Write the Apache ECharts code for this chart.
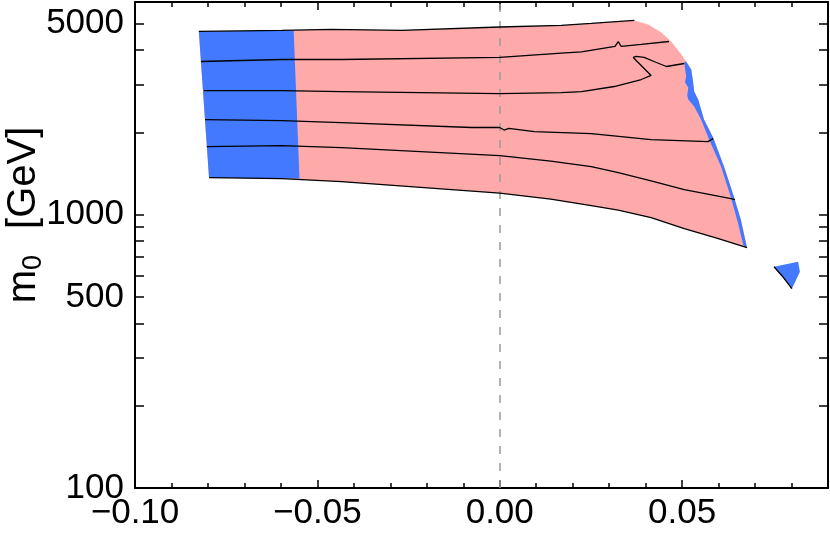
<!DOCTYPE html>
<html><head><meta charset="utf-8">
<script src="https://cdn.jsdelivr.net/npm/echarts@6/dist/echarts.min.js"></script>
<style>html,body{margin:0;padding:0;background:#fff}#c{width:830px;height:535px}</style>
</head><body><div id="c"></div>
<script>
// ---- tick values / labels ----
const xTickValues = [-0.10, -0.05, 0.00, 0.05];
const xTickLabels = ['\u22120.10', '\u22120.05', '0.00', '0.05'];
const xMinorTicks = [-0.09, -0.08, -0.07, -0.06, -0.04, -0.03, -0.02, -0.01, 0.01, 0.02, 0.03, 0.04, 0.06, 0.07, 0.08];
const yLabelValues = [100, 500, 1000, 5000];
const yTickValues = [100, 200, 300, 400, 500, 600, 700, 800, 900, 1000, 2000, 3000, 4000, 5000];
const xRange = [-0.10, 0.09];
const yRange = [100, 6000];

// ---- contour lines  [x, m0 (GeV)] ----
const line1 = [[-0.0825,4681],[-0.0598,4721],[-0.0462,4761],[-0.0269,4721],[0.0,4860],[0.0169,4925],[0.0251,5007],[0.0369,5136]];
const line2 = [[-0.0819,3635],[-0.0598,3697],[-0.0434,3697],[0.0,3760],[0.0169,3900],[0.0224,3940],[0.0316,4125],[0.0325,4300],[0.0333,4125],[0.0388,4196],[0.0464,4302]];
const line3 = [[-0.0811,2846],[-0.0598,2846],[-0.0434,2822],[0.0,2775],[0.0169,2798],[0.0224,2822],[0.0314,2944],[0.0388,3123],[0.0415,3231],[0.0366,3760],[0.0374,3792],[0.0396,3760],[0.0423,3635],[0.0457,3485],[0.0506,3574]];
const line4 = [[-0.0808,2228],[-0.0598,2209],[-0.0434,2173],[-0.0077,2084],[0.0,2084],[0.0012,2040],[0.0025,2070],[0.0095,2014],[0.0251,1980],[0.0415,1882],[0.0571,1851],[0.0585,1898]];
const line5 = [[-0.0803,1774],[-0.0598,1789],[-0.0434,1759],[0.0,1645],[0.0140,1570],[0.0251,1499],[0.0325,1425],[0.0415,1330],[0.0506,1235],[0.0634,1145],[0.0645,1135]];
const line6 = [[-0.0797,1366],[-0.0598,1355],[-0.0434,1321],[0.0,1200],[0.0140,1140],[0.0251,1079],[0.0325,1040],[0.0415,975],[0.0506,890],[0.0595,820],[0.0678,757]];

// ---- region boundaries ----
const pinkRightEdge = [[0.0369,5136],[0.0407,4966],[0.0443,4642],[0.0470,4302],[0.0498,3856],[0.0511,3635]];
const blueOuterEdge = [[0.0511,3635],[0.0525,3396],[0.0530,3071],[0.0533,2822],[0.0544,2638],[0.0560,2228],[0.0585,1915],[0.0615,1499],[0.0642,1164],[0.0661,959],[0.0678,757]];
const blueInnerEdge = [[0.0669,764],[0.0653,935],[0.0634,1154],[0.0607,1499],[0.0574,1882],[0.0552,2228],[0.0533,2487],[0.0517,2638],[0.0514,2728],[0.0517,2919],[0.0508,3044],[0.0511,3203],[0.0506,3604]];
const blueLeft = [[-0.0825,4681],[-0.0565,4721],[-0.0549,1355],[-0.0797,1366]];
const islandBlue = [[0.0752,645],[0.0818,673],[0.0823,618],[0.0801,536]];
const islandEdge = [[0.0752,645],[0.0776,593],[0.0801,536]];
const zeroLineX = 0;

const PINK = '#ffaaaa';
const BLUE = '#4279ff';

const L = Math.log10;
const toLog = pts => pts.map(p => [p[0], L(p[1])]);

function polySeries(pts, color, z) {
  const d = toLog(pts);
  return {
    type: 'custom', coordinateSystem: 'cartesian2d', data: d, silent: true, animation: false, z: z,
    renderItem: (params, api) => params.dataIndex === 0 ? {
      type: 'polygon', shape: { points: d.map(p => api.coord(p)) }, style: { fill: color, stroke: null }
    } : null
  };
}
function lineSeries(pts, extra) {
  return Object.assign({
    type: 'line', data: toLog(pts), symbol: 'none', showSymbol: false, silent: true, animation: false, z: 5,
    lineStyle: { color: '#000', width: 1.3 }
  }, extra || {});
}

const FONT = 'Liberation Sans, Arial, Helvetica, sans-serif';
const xBase = { type: 'value', min: xRange[0], max: xRange[1], splitLine: { show: false }, gridIndex: 0 };
const yBase = { type: 'value', min: L(yRange[0]), max: L(yRange[1]), splitLine: { show: false }, gridIndex: 0 };
const axisLineStyle = { show: true, onZero: false, lineStyle: { color: '#000', width: 2 } };

const option = {
  animation: false,
  backgroundColor: '#fff',
  grid: { left: 135, right: 2, top: 2, bottom: 47, containLabel: false },
  xAxis: [
    Object.assign({}, xBase, {
      position: 'bottom', axisLine: axisLineStyle,
      axisTick: { show: true, inside: true, length: 8, customValues: xTickValues, lineStyle: { color: '#000', width: 1.5 } },
      axisLabel: { show: true, customValues: xTickValues, margin: 8, fontSize: 35, color: '#000', fontFamily: FONT,
        formatter: v => { const i = xTickValues.findIndex(t => Math.abs(t - v) < 1e-9); return i >= 0 ? xTickLabels[i] : ''; } }
    }),
    Object.assign({}, xBase, {
      position: 'bottom', axisLine: { show: false },
      axisTick: { show: true, inside: true, length: 5, customValues: xMinorTicks, lineStyle: { color: '#000', width: 1.5 } },
      axisLabel: { show: false }
    }),
    Object.assign({}, xBase, {
      position: 'top', axisLine: axisLineStyle,
      axisTick: { show: true, inside: true, length: 8, customValues: xTickValues, lineStyle: { color: '#000', width: 1.5 } },
      axisLabel: { show: false }
    }),
    Object.assign({}, xBase, {
      position: 'top', axisLine: { show: false },
      axisTick: { show: true, inside: true, length: 5, customValues: xMinorTicks, lineStyle: { color: '#000', width: 1.5 } },
      axisLabel: { show: false }
    })
  ],
  yAxis: [
    Object.assign({}, yBase, {
      position: 'left', axisLine: axisLineStyle,
      axisTick: { show: true, inside: true, length: 9, customValues: yTickValues.map(L), lineStyle: { color: '#000', width: 1.5 } },
      axisLabel: { show: true, customValues: yLabelValues.map(L), margin: 11, fontSize: 35, color: '#000', fontFamily: FONT,
        formatter: v => String(Math.round(Math.pow(10, v))) }
    }),
    Object.assign({}, yBase, {
      position: 'right', axisLine: axisLineStyle,
      axisTick: { show: true, inside: true, length: 9, customValues: yTickValues.map(L), lineStyle: { color: '#000', width: 1.5 } },
      axisLabel: { show: false }
    })
  ],
  graphic: [{
    type: 'text', x: 24, y: 215, rotation: Math.PI / 2, silent: true,
    style: {
      text: '{m|m}{s|0}{g|[GeV]}',
      align: 'center', verticalAlign: 'middle',
      rich: {
        m: { fontSize: 40, fontFamily: FONT, fill: '#000', lineHeight: 46, verticalAlign: 'middle' },
        s: { fontSize: 27, fontFamily: FONT, fill: '#000', lineHeight: 28, verticalAlign: 'bottom' },
        g: { fontSize: 40, fontFamily: FONT, fill: '#000', lineHeight: 46, verticalAlign: 'middle', padding: [0, 0, 0, 26] }
      }
    }
  }],
  series: [
    polySeries([].concat(line1, pinkRightEdge, blueOuterEdge, line6.slice().reverse()), PINK, 1),
    polySeries(blueLeft, BLUE, 2),
    polySeries([].concat(blueOuterEdge, blueInnerEdge), BLUE, 2),
    polySeries(islandBlue, BLUE, 2),
    lineSeries(line1), lineSeries(line2), lineSeries(line3),
    lineSeries(line4), lineSeries(line5), lineSeries(line6),
    lineSeries(islandEdge, {
      z: 6,
      markLine: { silent: true, symbol: 'none', animation: false,
        label: { show: false },
        lineStyle: { color: '#9a9a9a', width: 1.5, type: [8, 9] },
        data: [{ xAxis: zeroLineX }] }
    })
  ]
};
const chart = echarts.init(document.getElementById('c'), null, { renderer: 'canvas' });
chart.setOption(option);
</script></body></html>
